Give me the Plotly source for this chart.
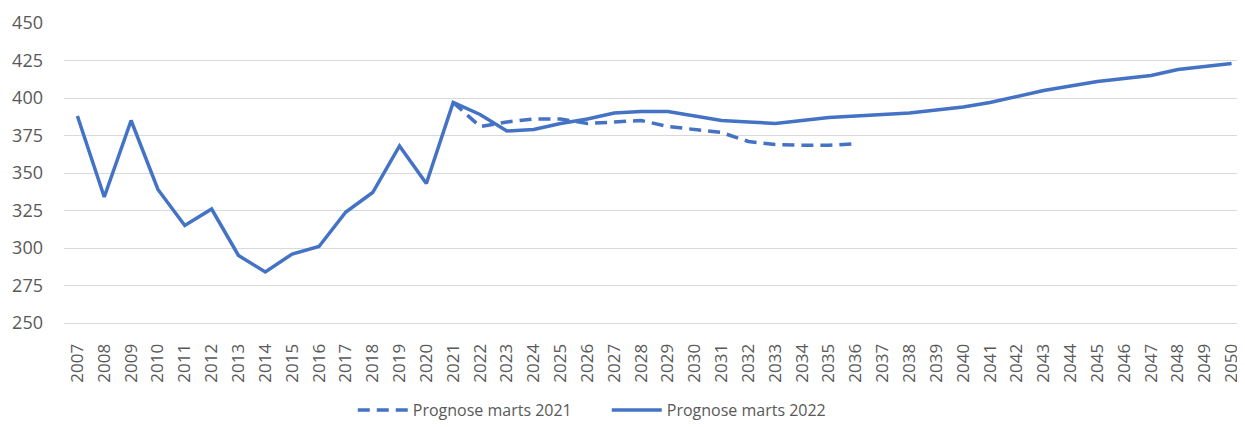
import plotly.graph_objects as go

years = [str(y) for y in range(2007, 2051)]

prognose_2022 = [388, 334, 385, 339, 315, 326, 295, 284, 296, 301, 324, 337, 368, 343,
                 397, 389, 378, 379, 383, 386, 390, 391, 391, 388, 385, 384, 383, 385,
                 387, 388, 389, 390, 392, 394, 397, 401, 405, 408, 411, 413, 415, 419,
                 421, 423]

prognose_2021 = [None] * 14 + [397, 381, 384, 386, 386, 383, 384, 385, 381, 379, 377,
                               371, 369, 368.5, 368.5, 369.5] + [None] * 14

y_ticks = [250, 275, 300, 325, 350, 375, 400, 425, 450]

BLUE = "#4472C4"
GRID = "#D9D9D9"
TXT = "#595959"
FONT = "Open Sans"

fig = go.Figure()
fig.add_trace(go.Scatter(x=years, y=prognose_2021, mode="lines", name="Prognose marts 2021",
                         line=dict(color=BLUE, width=3.5, dash="12px,7px"),
                         connectgaps=False))
fig.add_trace(go.Scatter(x=years, y=prognose_2022, mode="lines", name="Prognose marts 2022",
                         line=dict(color=BLUE, width=3.5)))

# page body has an 8px margin; compensate so the plot sits where the reference does
fig.update_layout(
    width=1237, height=419,
    margin=dict(l=56, r=0, t=15, b=104, autoexpand=False),
    paper_bgcolor="white", plot_bgcolor="white",
    font=dict(family=FONT, color=TXT, size=16),
    showlegend=True,
    legend=dict(orientation="h", x=0.2445, xanchor="left", y=-0.3467, yanchor="bottom",
                font=dict(size=16, color=TXT), bgcolor="rgba(0,0,0,0)",
                entrywidth=189, entrywidthmode="pixels", itemwidth=50),
    xaxis=dict(type="category", range=[-0.5, 43.5], tickangle=-90,
               showgrid=False, showline=True, linecolor=GRID, linewidth=1,
               ticks="", automargin=False, tickfont=dict(size=17, color=TXT),
               ticklabelstandoff=13),
    yaxis=dict(range=[250, 450], tickvals=y_ticks, showgrid=True, gridcolor=GRID,
               gridwidth=1, zeroline=False, showline=False, ticks="",
               automargin=False, tickfont=dict(size=18, color=TXT),
               ticklabelstandoff=20),
)

fig.write_html("out.html")
